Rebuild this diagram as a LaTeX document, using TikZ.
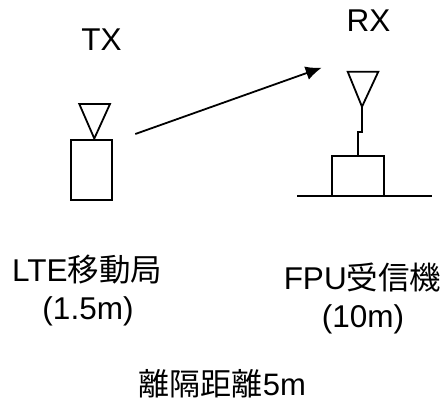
\documentclass[tikz,border=0pt]{standalone}
\usepackage{fontspec}
\setmainfont{Liberation Sans}
\newfontfamily\cjk{Noto Sans CJK JP}
\usetikzlibrary{arrows.meta}
\tikzset{
  lbl/.style={inner sep=0pt,outer sep=0pt,anchor=base,font=\fontsize{31.5}{35}\selectfont},
  lineart/.style={draw=black,line width=1.8pt,line join=miter},
  bodybox/.style={draw=black,line width=1.8pt,inner sep=0pt,outer sep=0pt,anchor=north west,fill=white},
  link/.style={draw=black,line width=1.8pt,-{Latex[length=16pt,width=14pt]},shorten >=0pt}
}
\begin{document}
\begin{tikzpicture}[x=1pt,y=-1pt]
\useasboundingbox (0,0) rectangle (442,400);
% labels
\node[lbl] (tx) at (101.5,50.5) {TX};
\node[lbl] (rx) at (368.5,31) {RX};
\node[lbl] (lte) at (87.2,281.7) {LTE{\cjk 移動局}};
\node[lbl] (lteh) at (88,319) {(1.5m)};
\node[lbl] (fpu) at (362.5,289) {FPU{\cjk 受信機}};
\node[lbl] (fpuh) at (363,327) {(10m)};
\node[lbl,font=\fontsize{31}{35}\selectfont] (dist) at (222.5,395) {{\cjk 離隔距離}5m};
% TX
\node[bodybox,minimum width=40.4pt,minimum height=60pt] (txbody) at (71.3,140) {};
\coordinate (txa) at (79.3,104);
\coordinate (txb) at (110,104);
\coordinate (txc) at (94.3,138.5);
\draw[lineart] (txa) -- (txb) -- (txc) -- cycle;
% RX
\draw[lineart] (297.3,196) coordinate (g1) -- (432.3,196) coordinate (g2);
\node[bodybox,minimum width=52pt,minimum height=40pt] (rxbody) at (331.7,155.7) {};
\coordinate (rxa) at (347.7,71.7);
\coordinate (rxb) at (378.3,71.7);
\coordinate (rxc) at (362,106.7);
\draw[lineart] (rxa) -- (rxb) -- (rxc) -- cycle;
\coordinate (st) at (358,155.7);
\draw[lineart] (rxc) -- (362,132) -- (358,132) -- (st);
% link
\coordinate (from) at (135.3,134);
\coordinate (to) at (321.7,67.7);
\draw[link] (from) -- (to);
\end{tikzpicture}
\end{document}
